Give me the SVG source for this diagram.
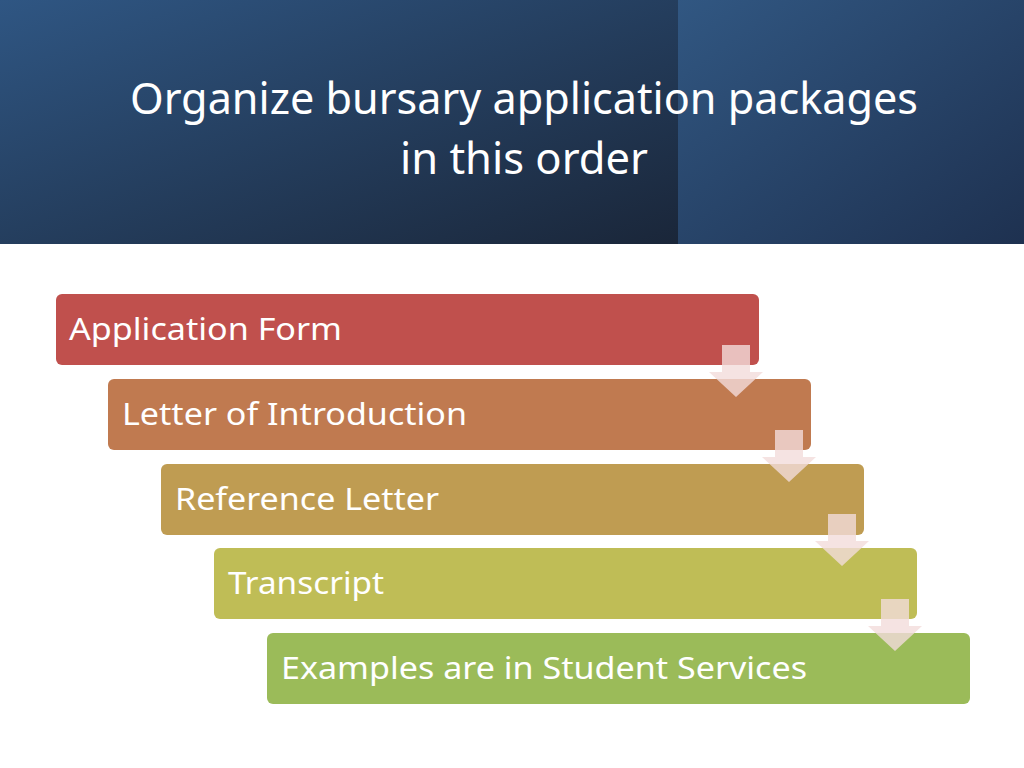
<svg xmlns="http://www.w3.org/2000/svg" width="1024" height="768" viewBox="0 0 1024 768">
<style>
.t{font-family:"Noto Sans","Open Sans",sans-serif;fill:#fff}
.lbl{font-size:31px}
.ttl{font-size:43px}
.arr{fill:#f2dcdb;fill-opacity:0.8}
</style>
<defs>
<linearGradient id="gl" x1="0" y1="0" x2="1" y2="1"><stop offset="0" stop-color="#2f5683"/><stop offset="1" stop-color="#1a2639"/></linearGradient>
<linearGradient id="gr" x1="0" y1="0" x2="1" y2="1"><stop offset="0" stop-color="#315782"/><stop offset="1" stop-color="#1e3150"/></linearGradient>
</defs>
<rect width="1024" height="768" fill="#fff"/>
<rect x="0" y="0" width="678" height="244" fill="url(#gl)"/>
<rect x="678" y="0" width="346" height="244" fill="url(#gr)"/>
<text class="t ttl" x="524" y="114" text-anchor="middle" textLength="788" lengthAdjust="spacingAndGlyphs">Organize bursary application packages</text>
<text class="t ttl" x="524" y="174" text-anchor="middle" textLength="248" lengthAdjust="spacingAndGlyphs">in this order</text>
<g id="n1"><rect x="56" y="294" width="703" height="71" rx="6" fill="#c0504d"/><text class="t lbl" x="69" y="340" textLength="273" lengthAdjust="spacingAndGlyphs">Application Form</text></g>
<g id="n2"><rect x="108" y="379" width="703" height="71" rx="6" fill="#c07a50"/><text class="t lbl" x="122" y="425" textLength="345" lengthAdjust="spacingAndGlyphs">Letter of Introduction</text></g>
<g id="n3"><rect x="161" y="464" width="703" height="71" rx="6" fill="#bf9c52"/><text class="t lbl" x="175" y="510" textLength="264" lengthAdjust="spacingAndGlyphs">Reference Letter</text></g>
<g id="n4"><rect x="214" y="548" width="703" height="71" rx="6" fill="#bfbd56"/><text class="t lbl" x="228" y="594" textLength="156" lengthAdjust="spacingAndGlyphs">Transcript</text></g>
<g id="n5"><rect x="267" y="633" width="703" height="71" rx="6" fill="#9bbb59"/><text class="t lbl" x="281" y="679" textLength="526" lengthAdjust="spacingAndGlyphs">Examples are in Student Services</text></g>
<g id="connectors">
<path class="arr" d="M722,345 h28 v27 h13 l-27,25 l-27,-25 h13 z"/>
<path class="arr" d="M775,430 h28 v27 h13 l-27,25 l-27,-25 h13 z"/>
<path class="arr" d="M828,514 h28 v27 h13 l-27,25 l-27,-25 h13 z"/>
<path class="arr" d="M881,599 h28 v27 h13 l-27,25 l-27,-25 h13 z"/>
</g>
</svg>
